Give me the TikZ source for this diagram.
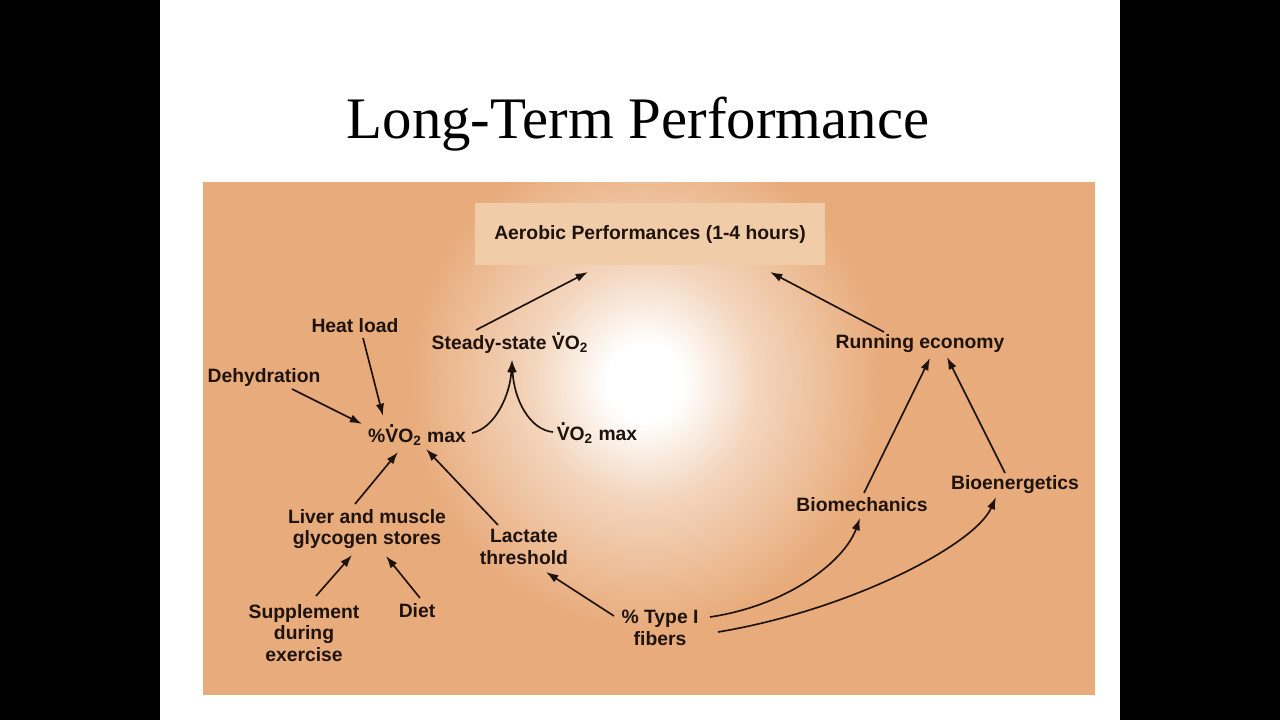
\documentclass[tikz,border=0pt]{standalone}
\usepackage{fontspec}
\setmainfont{Liberation Serif}
\setsansfont{Liberation Sans}
\usetikzlibrary{arrows.meta,calc}

\definecolor{panel}{RGB}{232,172,124}
\definecolor{boxfill}{RGB}{241,204,168}
\definecolor{ink}{RGB}{30,18,12}
\pgfdeclareradialshading{glow}{\pgfpoint{0bp}{0bp}}{color(0bp)=(white); color(4bp)=(white); color(12bp)=(panel!50!white); color(25bp)=(panel); color(50bp)=(panel)}

% dotted V for the oxygen uptake
\newcommand{\Vdot}{\leavevmode\setbox0\hbox{V}\hbox to\wd0{\hss\raisebox{0.74em}{.}\hss}\kern-\wd0\box0}

\begin{document}
\begin{tikzpicture}[
  x=0.02cm, y=-0.02cm,
  lbl/.style={font=\sffamily\bfseries\fontsize{11}{12.2}\selectfont, text=ink, align=center, inner sep=1pt},
  arrow/.style={-{Latex[length=7pt,width=4.8pt]}, draw=ink, line width=0.95pt}
]
  \useasboundingbox (0,0) rectangle (1280,720);
  % slide
  \fill[black] (0,0) rectangle (1280,720);
  \fill[white] (160,0) rectangle (1120,720);
  \node[font=\fontsize{33.5}{40}\selectfont] (title) at (638,124) {Long-Term Performance};

  % panel with the light in the middle
  \fill[panel] (203,182) rectangle (1095,695);
  \begin{scope}
    \clip (203,182) rectangle (1095,695);
    \shade[shading=glow] (645,382) ellipse (235 and 245);
  \end{scope}

  \node[lbl, fill=boxfill, minimum width=7cm, minimum height=1.24cm] (aerobic) at (650,234) {Aerobic Performances (1-4 hours)};

  \node[lbl] (steady) at (510,343) {Steady-state \Vdot O\textsubscript{2}};
  \node[lbl] (heat) at (355,326) {Heat load};
  \node[lbl] (dehyd) at (264,377) {Dehydration};
  \node[lbl] (pvo2) at (417,435) {\%\Vdot O\textsubscript{2} max};
  \node[lbl] (vo2max) at (597,433) {\Vdot O\textsubscript{2} max};
  \node[lbl] (liver) at (367,529) {Liver and muscle\\glycogen stores};
  \node[lbl] (lactate) at (524,547) {Lactate\\threshold};
  \node[lbl] (suppl) at (304,633) {Supplement\\during\\exercise};
  \node[lbl] (diet) at (417,611) {Diet};
  \node[lbl] (typeI) at (660,628) {\% Type I\\fibers};
  \node[lbl] (running) at (920,344) {Running economy};
  \node[lbl] (biomech) at (862,505) {Biomechanics};
  \node[lbl] (bioener) at (1015,485) {Bioenergetics};

  % left branch
  \draw[arrow] ($(steady)+(-34,-13)$) -- ($(aerobic)+(-62,38)$);
  \draw[arrow] ($(heat)+(8,12)$) -- ($(pvo2)+(-34,-19)$);
  \draw[arrow] ($(dehyd)+(28,12)$) -- ($(pvo2)+(-55,-11)$);
  \draw[arrow] ($(pvo2)+(55,-2)$) .. controls +(23,-5) and +(-2,35) .. ($(steady)+(2,17)$);
  \draw[arrow] ($(vo2max)+(-44,-1)$) .. controls +(-23,-2) and +(2,40) .. ($(steady)+(2,17)$);
  \draw[arrow] ($(liver)+(-12,-25)$) -- ($(pvo2)+(-19,17)$);
  \draw[arrow] ($(lactate)+(-26,-22)$) -- ($(pvo2)+(9,14)$);
  \draw[arrow] ($(suppl)+(12,-37)$) -- ($(liver)+(-15,26)$);
  \draw[arrow] ($(diet)+(3,-13)$) -- ($(liver)+(19,27)$);
  \draw[arrow] ($(typeI)+(-46,-12)$) -- ($(lactate)+(22,25)$);

  % right branch
  \draw[arrow] ($(running)+(-36,-12)$) -- ($(aerobic)+(120,38)$);
  \draw[arrow] ($(typeI)+(50,-11)$) .. controls +(80,-12) and +(-15,42) .. ($(biomech)+(-2,13)$);
  \draw[arrow] ($(typeI)+(58,4)$) .. controls +(132,-22) and +(-21,48) .. ($(bioener)+(-19,12)$);
  \draw[arrow] ($(biomech)+(2,-12)$) -- ($(running)+(10,14)$);
  \draw[arrow] ($(bioener)+(-10,-12)$) -- ($(running)+(27,13)$);
\end{tikzpicture}
\end{document}
